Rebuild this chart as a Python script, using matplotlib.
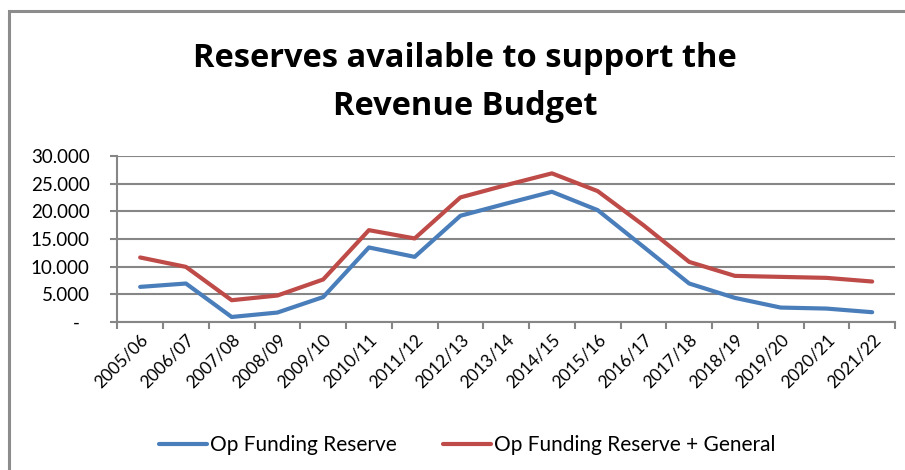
import matplotlib.pyplot as plt
from matplotlib.patches import Rectangle
from matplotlib.ticker import FuncFormatter, FixedLocator

years = ['2005/06', '2006/07', '2007/08', '2008/09', '2009/10', '2010/11',
         '2011/12', '2012/13', '2013/14', '2014/15', '2015/16', '2016/17',
         '2017/18', '2018/19', '2019/20', '2020/21', '2021/22']
op_funding = [6340, 6950, 900, 1700, 4500, 13470, 11770, 19200, 21400, 23540,
              20220, 13600, 6950, 4350, 2600, 2420, 1760]
op_plus_general = [11660, 9960, 3930, 4780, 7680, 16600, 15100, 22520, 24750,
                   26870, 23660, 17500, 10860, 8330, 8150, 7970, 7310]

plt.rcParams['font.family'] = ['Lato', 'DejaVu Sans']

fig = plt.figure(figsize=(9.05, 4.7), dpi=100)
ax = fig.add_axes([0.1296, 0.315, 0.989 - 0.1296, 0.353])

# outer chart frame (cut off on right and bottom)
fig.patches.append(Rectangle((9 / 905, -0.1), 1.2, 1 - 11 / 470 + 0.1,
                             transform=fig.transFigure, fill=False,
                             edgecolor='#8c8c8c', linewidth=2.2))

x = list(range(len(years)))
ax.plot(x, op_funding, color='#4a7ebb', linewidth=3, label='Op Funding Reserve',
        solid_capstyle='round', zorder=3)
ax.plot(x, op_plus_general, color='#be4b48', linewidth=3,
        label='Op Funding Reserve + General', solid_capstyle='round', zorder=3)

ax.set_xlim(-0.5, len(years) - 0.5)
ax.set_ylim(0, 30000)
ax.set_yticks(range(0, 30001, 5000))
ax.yaxis.set_major_formatter(FuncFormatter(
    lambda v, p: '-  ' if v == 0 else f'{int(v):,}'.replace(',', '.')))
ax.grid(axis='y', color='#868686', linewidth=1.5)
ax.set_axisbelow(True)

ax.set_xticks(x)
ax.set_xticklabels(years, rotation=45, ha='right', rotation_mode='anchor',
                   fontsize=12.5)
ax.tick_params(axis='x', which='major', length=0, pad=7)
ax.xaxis.set_minor_locator(FixedLocator([i - 0.5 for i in range(len(years) + 1)]))
ax.tick_params(axis='x', which='minor', length=5, width=1.5, color='#868686')
ax.tick_params(axis='y', length=5, width=1.5, color='#868686', labelsize=13.5,
               pad=15)

for s in ['top', 'right']:
    ax.spines[s].set_visible(False)
for s in ['left', 'bottom']:
    ax.spines[s].set_color('#868686')
    ax.spines[s].set_linewidth(1.5)

fig.text(0.514, 1 - 67 / 470, 'Reserves available to support the',
         ha='center', va='baseline', fontsize=23.5, fontweight='bold',
         family='Open Sans')
fig.text(0.514, 1 - 115 / 470, 'Revenue Budget',
         ha='center', va='baseline', fontsize=23.5, fontweight='bold',
         family='Open Sans')

fig.legend(loc='center', bbox_to_anchor=(0.5166, 1 - 445 / 470), ncol=2,
           frameon=False, fontsize=15, handlelength=2.3, handletextpad=0.15,
           columnspacing=2.2)

fig.savefig('out.png', dpi=100)
